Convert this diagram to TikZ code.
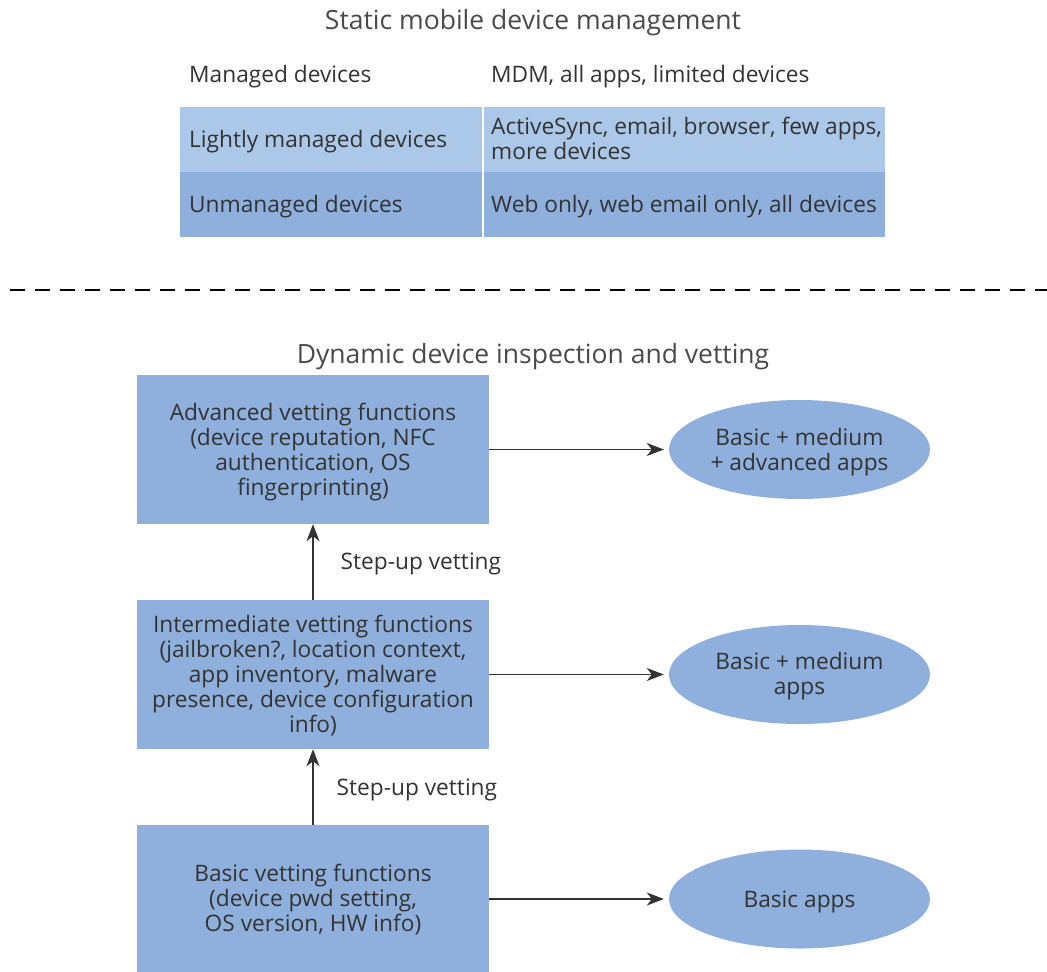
\documentclass[tikz,border=0pt]{standalone}
\usepackage{fontspec}
\setmainfont{Open Sans}
\usetikzlibrary{arrows.meta,shapes.geometric}
\definecolor{boxblue}{HTML}{8FB0DC}
\definecolor{lightblue}{HTML}{ABC8E8}
\definecolor{txtc}{HTML}{333333}
\definecolor{titlec}{HTML}{4A4A4A}
\newcommand\lowr[1]{\rule{0pt}{#1pt}}
\begin{document}
\begin{tikzpicture}[x=1pt,y=-1pt,
  txt/.style={text=txtc, font=\fontsize{22.7}{25}\selectfont, inner sep=0pt},
  ttl/.style={text=titlec, font=\fontsize{26.5}{30}\selectfont, inner sep=0pt},
  cell/.style={anchor=north west, inner sep=0pt, minimum height=65pt},
  vbox/.style={txt, fill=boxblue, minimum width=352pt, minimum height=149pt, align=center},
  ell/.style={txt, ellipse, fill=boxblue, minimum width=261pt, minimum height=99pt, align=center},
  arr/.style={draw=txtc, line width=1.4pt, -{Stealth[length=17pt,width=13pt,inset=5pt]}, shorten >=5pt}
]
\useasboundingbox (0,0) rectangle (1047,972);

% ---- static part ----
\node[ttl] (t1) at (533,23) {Static mobile device management};
\node[txt, anchor=west] (h1) at (189,77) {Managed devices};
\node[txt, anchor=west] (h2) at (491,77) {MDM, all apps, limited devices};

\node[cell, fill=lightblue, minimum width=303pt] (c11) at (180,107) {};
\node[cell, fill=lightblue, minimum width=402pt] (c12) at (483,107) {};
\node[cell, fill=boxblue, minimum width=303pt] (c21) at (180,172) {};
\node[cell, fill=boxblue, minimum width=402pt] (c22) at (483,172) {};
\draw[white, line width=2pt] (c11.north east) -- (c21.south east);

\node[txt, anchor=west] (r1a) at (189,142) {Lightly managed devices};
\node[txt, anchor=west, align=left] (r1b) at (491,138) {ActiveSync, email, browser, few apps,\\more devices};
\node[txt, anchor=west] (r2a) at (189,207) {Unmanaged devices};
\node[txt, anchor=west] (r2b) at (491,207) {Web only, web email only, all devices};

% ---- dashed separator ----
\coordinate (dl) at (10,290);
\coordinate (dr) at (1047,290);
\draw[black, line width=2pt, dash pattern=on 15pt off 10pt] (dl) -- (dr);

% ---- dynamic part ----
\node[ttl] (t2) at (533,357) {Dynamic device inspection and vetting};

\node[vbox] (adv) at (313,449.5) {\lowr{22}Advanced vetting functions\\(device reputation, NFC\\authentication, OS\\fingerprinting)};
\node[vbox] (mid) at (313,674.5) {\lowr{20}Intermediate vetting functions\\(jailbroken?, location context,\\app inventory, malware\\presence, device configuration\\info)};
\node[vbox, minimum height=148pt] (bas) at (313,899) {\lowr{18}Basic vetting functions\\(device pwd setting,\\OS version, HW info)};

\node[ell] (e1) at (799.5,449.5) {\lowr{22}Basic + medium\\+ advanced apps};
\node[ell] (e2) at (799.5,674.5) {\lowr{20}Basic + medium\\apps};
\node[ell] (e3) at (799.5,899) {\lowr{23}Basic apps};

\draw[arr] (adv.east) -- (e1.west);
\draw[arr] (mid.east) -- (e2.west);
\draw[arr] (bas.east) -- (e3.west);

\draw[arr, shorten >=0pt] (mid.north) -- (adv.south) node[txt, midway, anchor=west, xshift=27pt, yshift=-2pt] {Step-up vetting};
\draw[arr, shorten >=0pt] (bas.north) -- (mid.south) node[txt, midway, anchor=west, xshift=23pt, yshift=-3pt] {Step-up vetting};
\end{tikzpicture}
\end{document}
